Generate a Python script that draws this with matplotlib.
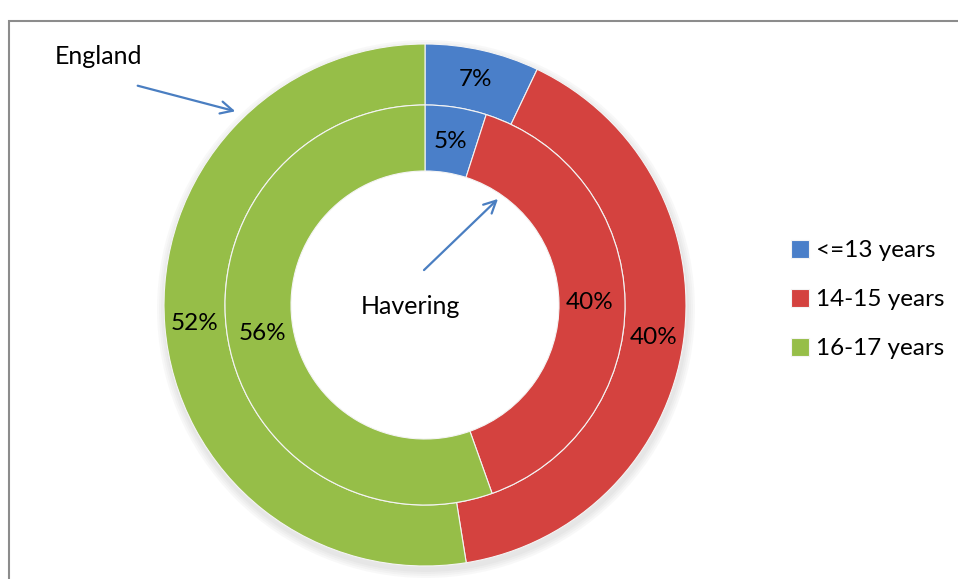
import matplotlib.pyplot as plt
from matplotlib.patches import Rectangle, Circle

plt.rcParams['font.family'] = ['Lato', 'DejaVu Sans']

# data
groups = ['<=13 years', '14-15 years', '16-17 years']
england = [7, 40, 52]
havering = [5, 40, 56]
colors = ['#4A7FC9', '#D4423F', '#96BE48']

W, H = 958, 579
fig = plt.figure(figsize=(W / 100, H / 100), dpi=100)
ax = fig.add_axes([0, 0, 1, 1])

cx, cy = 425, H - 305

# soft shadow under the rings
for i in range(4):
    ax.add_patch(Circle((cx + 1, cy - 4), 263 + 2 * i, color='#888888', alpha=0.05, lw=0, zorder=0))
ax.add_patch(Circle((cx, cy), 261, color='white', lw=0, zorder=0.5))

wp_out = dict(width=61, edgecolor='#f4f4f4', linewidth=0.8)
wp_in = dict(width=66, edgecolor='#f4f4f4', linewidth=0.8)
tp = dict(fontsize=17.5, ha='center', va='center')

w_out, t_out = ax.pie(england, colors=colors, startangle=90, counterclock=False,
                      radius=261, center=(cx, cy), wedgeprops=wp_out,
                      labels=[f'{v}%' for v in england], labeldistance=0.885,
                      textprops=tp, frame=True)
w_in, t_in = ax.pie(havering, colors=colors, startangle=90, counterclock=False,
                    radius=200, center=(cx, cy), wedgeprops=wp_in,
                    labels=[f'{v}%' for v in havering], labeldistance=0.825,
                    textprops=tp, frame=True)
for t in t_out + t_in:
    t.set_ha('center')

ax.set_xlim(0, W)
ax.set_ylim(0, H)
ax.set_aspect('equal')
ax.axis('off')

# frame
ax.add_patch(Rectangle((9, -20), W, H - 21 + 20, fill=False, edgecolor='#8C8C8C', lw=1.5, zorder=5))

# annotations
arrow_c = '#4A7EC1'
ax.text(99, H - 57, 'England', fontsize=18, ha='center', va='center')
ax.annotate('', xy=(238, H - 112), xytext=(135, H - 85),
            arrowprops=dict(arrowstyle='->', color=arrow_c, lw=1.6, mutation_scale=22))
ax.text(410, H - 306, 'Havering', fontsize=18, ha='center', va='center')
ax.annotate('', xy=(500, H - 197), xytext=(422, H - 272),
            arrowprops=dict(arrowstyle='->', color=arrow_c, lw=1.6, mutation_scale=22))

leg = ax.legend(w_out, groups, loc='upper left', bbox_to_anchor=(781 / W, 1 - 230 / H),
                frameon=False, fontsize=17.5, handlelength=0.75, handleheight=0.75,
                handletextpad=0.3, labelspacing=1.14, borderaxespad=0)

fig.savefig('out.png', dpi=100)
